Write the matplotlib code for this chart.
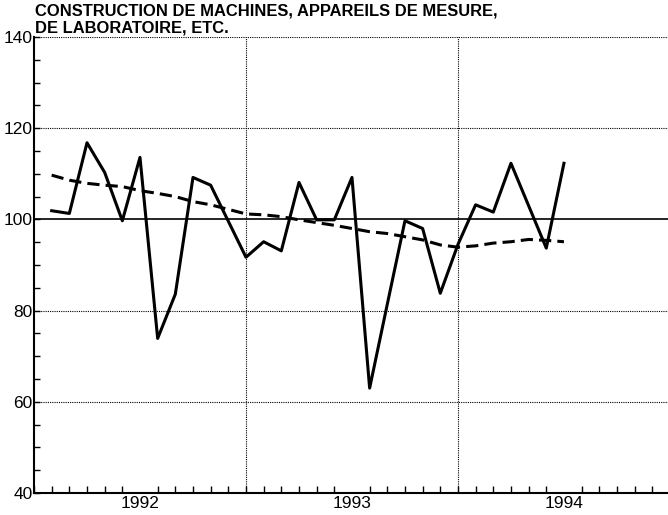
import matplotlib
matplotlib.use("Agg")
import matplotlib.pyplot as plt
from matplotlib.ticker import MultipleLocator, FixedLocator

# monthly index from Jan 1992 (0) to Jan 1995 (36)
months = list(range(1, 31))
actual = [101.9, 101.3, 116.8, 110.3, 99.7, 113.6, 73.9, 83.6, 109.2, 107.5,
          99.6, 91.7, 95.1, 93.1, 108.1, 99.9, 99.9, 109.2, 63.0, 81.4,
          99.7, 98.0, 83.8, 94.5, 103.2, 101.6, 112.3, 103.0, 93.7, 112.3]
trend = [109.7, 108.6, 107.9, 107.5, 107.2, 106.3, 105.7, 105.0, 103.9, 103.2,
         102.2, 101.2, 101.0, 100.6, 99.9, 99.3, 98.7, 98.0, 97.3, 96.9,
         96.2, 95.5, 94.4, 93.9, 94.2, 94.8, 95.1, 95.6, 95.4, 95.1]
year_pos = [6, 18, 30]
year_labels = ["1992", "1993", "1994"]
year_breaks = [12, 24]
hgrid = [60, 80, 120, 140]

plt.rcParams["font.family"] = ["Liberation Sans", "DejaVu Sans"]

fig = plt.figure(figsize=(6.68, 5.15), dpi=100)
ax = fig.add_axes([0.0509, 0.0427, 0.952, 0.8855])

for y in hgrid:
    ax.axhline(y, color="black", lw=0.8, ls=(0, (1, 1)), zorder=1)
for x in year_breaks:
    ax.axvline(x, color="black", lw=0.8, ls=(0, (1, 1)), zorder=1)
ax.axhline(100, color="black", lw=1.2, zorder=2)

ax.plot(months, trend, color="black", lw=2.2, ls=(0, (4, 2)), zorder=3)
ax.plot(months, actual, color="black", lw=2.2, zorder=4)

ax.set_xlim(0, 36)
ax.set_ylim(40, 140)
for s in ["top", "right"]:
    ax.spines[s].set_visible(False)
ax.spines["left"].set_linewidth(1.5)
ax.spines["bottom"].set_linewidth(1.5)

ax.yaxis.set_major_locator(MultipleLocator(20))
ax.yaxis.set_minor_locator(MultipleLocator(5))
ax.xaxis.set_major_locator(FixedLocator(year_pos))
ax.set_xticklabels(year_labels)
ax.xaxis.set_minor_locator(MultipleLocator(1))
ax.tick_params(axis="y", which="both", direction="in", length=4, width=1, labelsize=12.5, pad=1)
ax.tick_params(axis="x", which="major", length=0, labelsize=12.5, pad=2)
ax.tick_params(axis="x", which="minor", direction="in", length=5, width=1)

fig.text(0.053, 0.993, "CONSTRUCTION DE MACHINES, APPAREILS DE MESURE,",
         fontsize=11.9, fontweight="bold", ha="left", va="top")
fig.text(0.053, 0.961, "DE LABORATOIRE, ETC.",
         fontsize=11.9, fontweight="bold", ha="left", va="top")

fig.savefig("out.png", dpi=100)
